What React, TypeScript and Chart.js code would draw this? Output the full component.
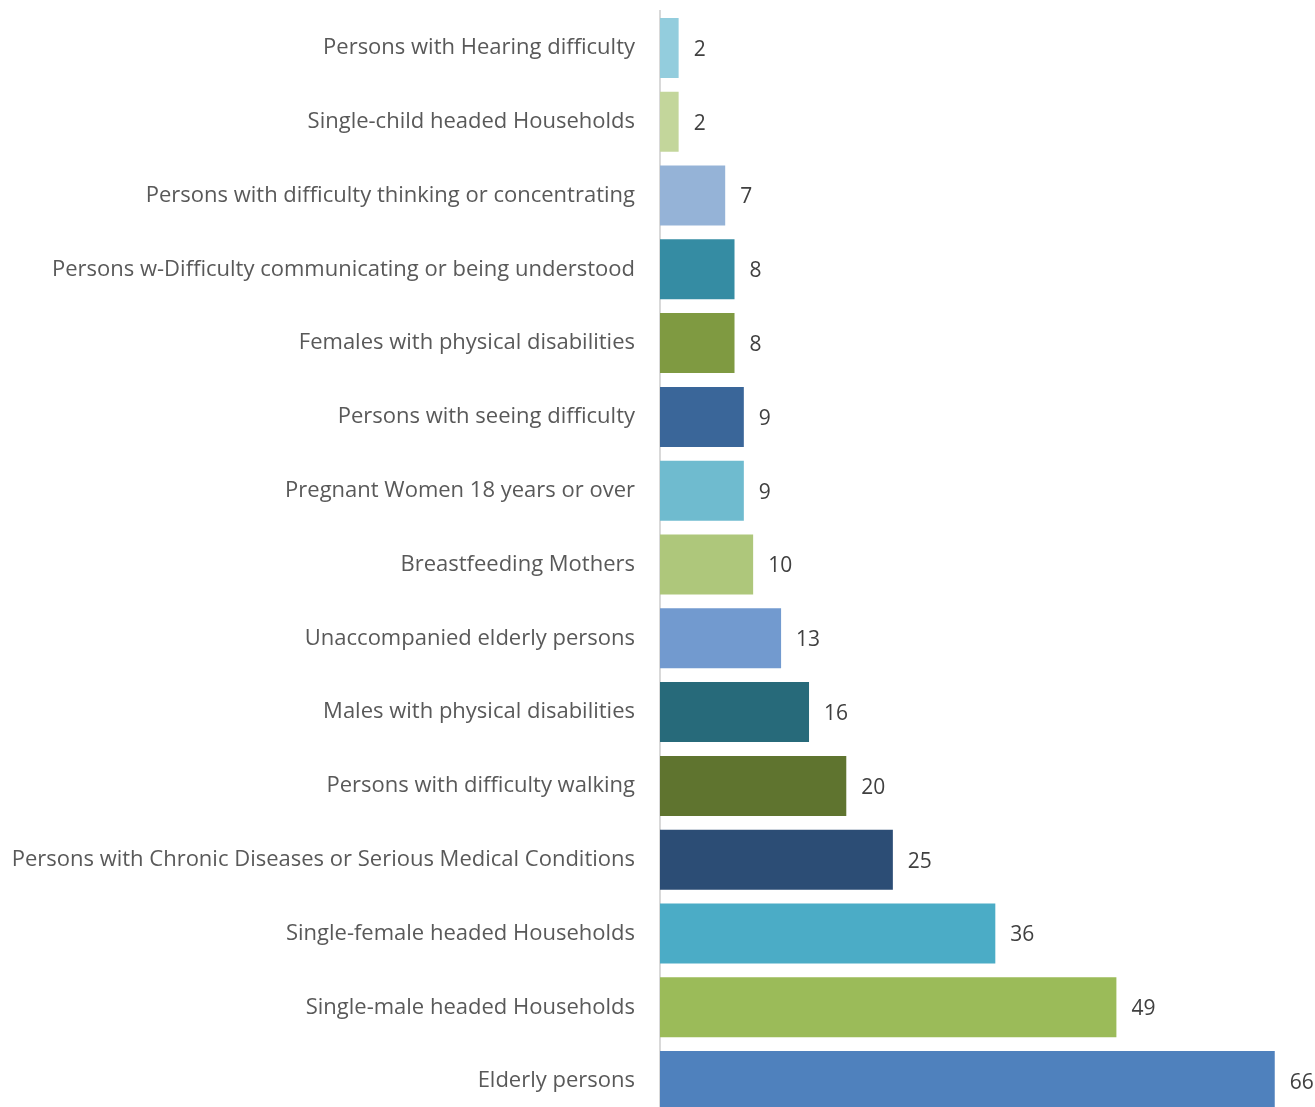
import React, { useEffect, useRef } from "react";
import { Chart, registerables } from "chart.js";

Chart.register(...registerables);

const categories: string[] = [
  "Persons with Hearing difficulty",
  "Single-child headed Households",
  "Persons with difficulty thinking or concentrating",
  "Persons w-Difficulty communicating or being understood",
  "Females with physical disabilities",
  "Persons with seeing difficulty",
  "Pregnant Women 18 years or over",
  "Breastfeeding Mothers",
  "Unaccompanied elderly persons",
  "Males with physical disabilities",
  "Persons with difficulty walking",
  "Persons with Chronic Diseases or Serious Medical Conditions",
  "Single-female headed Households",
  "Single-male headed Households",
  "Elderly persons",
];

const values: number[] = [2, 2, 7, 8, 8, 9, 9, 10, 13, 16, 20, 25, 36, 49, 66];

const barColors: string[] = [
  "#93CDDD",
  "#C3D69B",
  "#95B3D7",
  "#358CA3",
  "#7F9A41",
  "#3A6699",
  "#6FBBCF",
  "#AEC77B",
  "#729ACF",
  "#276A7A",
  "#5F742F",
  "#2C4D75",
  "#4BACC6",
  "#9BBB59",
  "#4F81BD",
];

const FONT = "'Open Sans', Lato, sans-serif";
const FONT_SIZE = 22;
const VALUE_FONT_SIZE = 21;

const valueLabelPlugin = {
  id: "valueLabels",
  afterDatasetsDraw(chart: any) {
    const { ctx } = chart;
    const meta = chart.getDatasetMeta(0);
    ctx.save();
    ctx.fillStyle = "#404040";
    ctx.font = `${VALUE_FONT_SIZE}px ${FONT}`;
    ctx.textAlign = "left";
    ctx.textBaseline = "middle";
    meta.data.forEach((bar: any, i: number) => {
      ctx.fillText(String(values[i]), bar.x + 15, bar.y + 2);
    });
    ctx.restore();
  },
};

export default function App() {
  const ref = useRef<HTMLCanvasElement | null>(null);
  useEffect(() => {
    if (!ref.current) return;
    const chart = new Chart(ref.current, {
      type: "bar",
      data: {
        labels: categories,
        datasets: [
          {
            data: values,
            backgroundColor: barColors,
            borderWidth: 0,
            categoryPercentage: 0.813,
            barPercentage: 1,
          },
        ],
      },
      options: {
        indexAxis: "y",
        animation: false,
        responsive: false,
        maintainAspectRatio: false,
        layout: { padding: { top: 11, right: 3, bottom: 0, left: 0 } },
        plugins: {
          legend: { display: false },
          tooltip: { enabled: false },
        },
        scales: {
          x: {
            display: false,
            min: 0,
            max: 70,
          },
          y: {
            grid: { display: false, drawTicks: false },
            border: { display: true, color: "#D9D9D9", width: 2 },
            ticks: {
              color: "#595959",
              padding: 25,
              font: { family: FONT, size: FONT_SIZE },
            },
            afterFit(scale: any) {
              scale.width = 660;
              scale.paddingTop = 0;
              scale.paddingBottom = 0;
            },
          },
        },
      },
      plugins: [valueLabelPlugin],
    });
    return () => chart.destroy();
  }, []);
  return (
    <div
      style={{
        position: "fixed",
        left: 0,
        top: 0,
        width: 1315,
        height: 1107,
        overflow: "hidden",
        background: "#fff",
      }}
    >
      <canvas ref={ref} width={1315} height={1118} style={{ display: "block" }} />
    </div>
  );
}
